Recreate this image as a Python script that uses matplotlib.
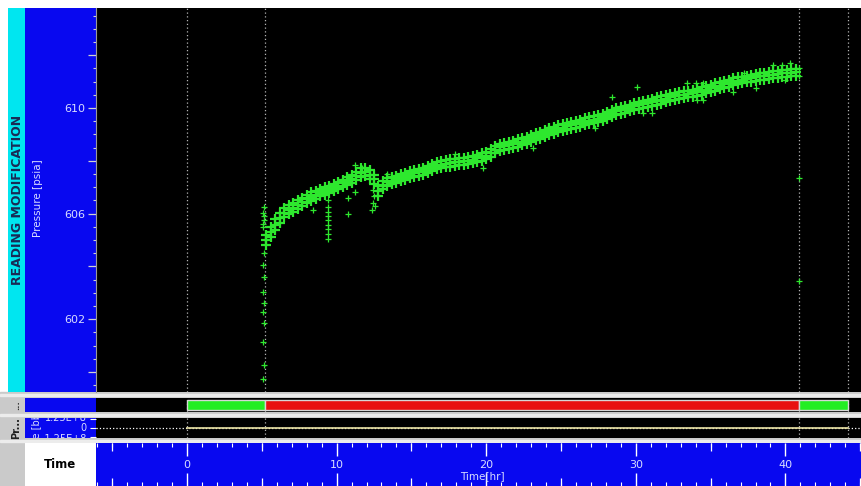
import matplotlib
matplotlib.use("Agg")
import matplotlib.pyplot as plt
import matplotlib.transforms as mtransforms
from matplotlib.patches import Rectangle
from matplotlib.ticker import MultipleLocator, FuncFormatter

# gauge pressure log, main band sampled every 0.3 hr (upper / mid / lower traces)
band_t = [
    5.3, 5.6, 5.9, 6.2, 6.5, 6.8, 7.1, 7.4, 7.7, 8.0,
    8.3, 8.6, 8.9, 9.2, 9.5, 9.8, 10.1, 10.4, 10.7, 11.0,
    11.3, 11.6, 11.9, 12.2, 12.5, 12.8, 13.1, 13.4, 13.7, 14.0,
    14.3, 14.6, 14.9, 15.2, 15.5, 15.8, 16.1, 16.4, 16.7, 17.0,
    17.3, 17.6, 17.9, 18.2, 18.5, 18.8, 19.1, 19.4, 19.7, 20.0,
    20.3, 20.6, 20.9, 21.2, 21.5, 21.8, 22.1, 22.4, 22.7, 23.0,
    23.3, 23.6, 23.9, 24.2, 24.5, 24.8, 25.1, 25.4, 25.7, 26.0,
    26.3, 26.6, 26.9, 27.2, 27.5, 27.8, 28.1, 28.4, 28.7, 29.0,
    29.3, 29.6, 29.9, 30.2, 30.5, 30.8, 31.1, 31.4, 31.7, 32.0,
    32.3, 32.6, 32.9, 33.2, 33.5, 33.8, 34.1, 34.4, 34.7, 35.0,
    35.3, 35.6, 35.9, 36.2, 36.5, 36.8, 37.1, 37.4, 37.7, 38.0,
    38.3, 38.6, 38.9, 39.2, 39.5, 39.8, 40.1, 40.4, 40.7,
]
band_mid = [
    605.0, 605.3, 605.57, 605.82, 606.03, 606.13, 606.22, 606.32, 606.44, 606.56,
    606.64, 606.71, 606.79, 606.86, 606.92, 606.98, 607.06, 607.15, 607.24, 607.32,
    607.42, 607.54, 607.56, 607.45, 607.3, 606.85, 607.1, 607.2, 607.25, 607.3,
    607.36, 607.42, 607.47, 607.52, 607.56, 607.6, 607.68, 607.75, 607.82, 607.86,
    607.89, 607.92, 607.95, 607.97, 607.99, 608.01, 608.04, 608.09, 608.14, 608.2,
    608.3, 608.42, 608.52, 608.56, 608.6, 608.64, 608.68, 608.73, 608.79, 608.86,
    608.92, 608.98, 609.04, 609.1, 609.16, 609.22, 609.26, 609.3, 609.35, 609.39,
    609.43, 609.48, 609.52, 609.56, 609.6, 609.66, 609.73, 609.8, 609.87, 609.93,
    609.97, 610.01, 610.06, 610.1, 610.14, 610.18, 610.22, 610.27, 610.31, 610.35,
    610.4, 610.44, 610.48, 610.51, 610.54, 610.57, 610.6, 610.65, 610.7, 610.75,
    610.8, 610.85, 610.9, 610.95, 611.0, 611.04, 611.07, 611.11, 611.14, 611.17,
    611.2, 611.22, 611.25, 611.27, 611.29, 611.31, 611.32, 611.34, 611.36,
]
band_hi = [
    605.2, 605.5, 605.78, 606.02, 606.2, 606.31, 606.39, 606.5, 606.6, 606.72,
    606.8, 606.86, 606.94, 607.0, 607.06, 607.13, 607.2, 607.29, 607.38, 607.47,
    607.58, 607.71, 607.74, 607.64, 607.48, 607.05, 607.25, 607.33, 607.39, 607.44,
    607.5, 607.55, 607.61, 607.66, 607.69, 607.74, 607.81, 607.89, 607.95, 607.99,
    608.02, 608.05, 608.08, 608.1, 608.12, 608.14, 608.17, 608.22, 608.28, 608.34,
    608.44, 608.55, 608.65, 608.69, 608.73, 608.76, 608.81, 608.86, 608.92, 608.99,
    609.05, 609.11, 609.17, 609.23, 609.29, 609.34, 609.38, 609.42, 609.48, 609.52,
    609.56, 609.61, 609.65, 609.69, 609.73, 609.79, 609.86, 609.93, 609.99, 610.05,
    610.09, 610.13, 610.18, 610.22, 610.26, 610.31, 610.35, 610.4, 610.44, 610.48,
    610.53, 610.57, 610.6, 610.63, 610.66, 610.69, 610.73, 610.78, 610.83, 610.88,
    610.93, 610.97, 611.02, 611.07, 611.12, 611.16, 611.19, 611.23, 611.26, 611.29,
    611.32, 611.34, 611.37, 611.39, 611.41, 611.43, 611.44, 611.46, 611.48,
]
band_lo = [
    604.82, 605.1, 605.38, 605.64, 605.86, 605.97, 606.06, 606.16, 606.29, 606.41,
    606.49, 606.57, 606.65, 606.72, 606.77, 606.84, 606.92, 607.01, 607.1, 607.17,
    607.27, 607.39, 607.41, 607.3, 607.13, 606.66, 606.95, 607.06, 607.11, 607.16,
    607.22, 607.28, 607.33, 607.38, 607.42, 607.46, 607.54, 607.61, 607.68, 607.72,
    607.75, 607.78, 607.81, 607.83, 607.85, 607.87, 607.9, 607.95, 608.0, 608.06,
    608.16, 608.28, 608.38, 608.42, 608.46, 608.5, 608.54, 608.59, 608.65, 608.72,
    608.78, 608.84, 608.9, 608.96, 609.02, 609.08, 609.12, 609.16, 609.21, 609.25,
    609.29, 609.34, 609.38, 609.42, 609.46, 609.52, 609.59, 609.66, 609.73, 609.79,
    609.83, 609.87, 609.92, 609.96, 610.0, 610.04, 610.08, 610.13, 610.17, 610.21,
    610.26, 610.3, 610.34, 610.37, 610.4, 610.43, 610.46, 610.51, 610.56, 610.61,
    610.66, 610.71, 610.76, 610.81, 610.86, 610.9, 610.93, 610.97, 611.0, 611.03,
    611.06, 611.08, 611.11, 611.13, 611.15, 611.17, 611.18, 611.2, 611.22,
]

# isolated readings: opening spike, two short drops and stray points
stray_t = [
    5.15, 5.1, 5.15, 5.1, 5.15, 5.1, 5.15, 5.1, 5.15, 5.1, 5.15, 5.1, 5.15, 5.1, 5.15, 5.1,
    9.45, 9.45, 9.45, 9.45, 9.45, 9.45, 9.45, 9.45, 9.45,
    12.45, 12.5, 12.45, 12.4, 12.55,
    8.4, 10.75, 10.75, 11.2, 11.2, 11.7, 13.4, 17.9, 19.8,
    23.1, 24.1, 27.3, 28.4, 30.1, 30.5, 31.1, 33.4, 34.0, 34.5, 34.1, 34.5,
    36.5, 37.2, 38.0, 39.2, 39.8, 40.0, 40.3,
    40.9, 40.9, 40.9, 40.9,
]
stray_p = [
    606.25, 606.02, 605.76, 605.49, 605.9, 605.6,
    604.51, 604.05, 603.6, 603.03, 602.61, 602.27, 601.86, 601.14, 600.27, 599.73,
    606.52, 606.25, 606.06, 605.91, 605.76, 605.57, 605.42, 605.23, 605.04,
    606.9, 606.65, 606.4, 606.14, 606.3,
    606.14, 605.98, 606.59, 606.82, 607.84, 607.73, 607.5, 608.26, 607.73,
    608.48, 609.28, 609.24, 610.42, 610.8, 609.8, 609.8, 610.95, 610.95, 610.95, 610.3, 610.3,
    610.6, 611.33, 610.76, 611.63, 611.63, 611.06, 611.7,
    611.5, 611.2, 607.35, 603.45,
]

# well status periods and event markers (hr)
status_start = [0.0, 5.2, 40.9]
status_end = [5.2, 40.9, 44.2]
status_color = ["#22ee22", "#e81010", "#22ee22"]
event_t = [0.0, 5.2, 40.9, 44.2]
rate_t = [0.0, 44.2]
rate_v = [0.0, 0.0]

W, H = 861, 486
XLIM = (-6.08, 45.05)
BLUE = "#0808f0"
CYAN = "#00e6f0"
GRAY = "#cacaca"
LIGHT = "#d8dcff"
GREEN = "#2ee82e"

fig = plt.figure(figsize=(W / 100, H / 100), dpi=100, facecolor="white")
fig.patches.append(Rectangle((0, 0), 1, (H - 392) / H, transform=fig.transFigure,
                             color=GRAY, zorder=-10))
for sep in (392, 412, 438):
    fig.patches.append(Rectangle((0, 1 - (sep + 4) / H), 1, 2 / H,
                                 transform=fig.transFigure, color="#ececec", zorder=-9))


def px_axes(x0, y0, x1, y1, color):
    ax = fig.add_axes([x0 / W, 1 - y1 / H, (x1 - x0) / W, (y1 - y0) / H])
    ax.set_facecolor(color)
    ax.set_xticks([])
    ax.set_yticks([])
    for s in ax.spines.values():
        s.set_visible(False)
    return ax


def events(ax):
    for t in event_t:
        ax.axvline(t, color="#b4b4b4", ls=(0, (1, 2)), lw=0.9, zorder=1)


# --- pressure track ---
lab = px_axes(8, 8, 25, 392, CYAN)
lab.text(0.55, 0.5, "READING MODIFICATION", rotation=90, ha="center", va="center",
         fontsize=9, fontweight="bold", color="#1a2a55", transform=lab.transAxes)
side = px_axes(25, 8, 96, 392, BLUE)
side.text(0.19, 0.505, "Pressure [psia]", rotation=90, ha="center", va="center",
          fontsize=7.5, color=LIGHT, transform=side.transAxes)

ax = px_axes(96, 8, 861, 392, "black")
ax.spines["left"].set_visible(True)
ax.spines["left"].set_color("#9a9a9a")
events(ax)
band_style = dict(ls="none", marker="+", ms=7, mew=1.6, color=GREEN, zorder=3)
ax.plot(band_t, band_hi, **band_style)
ax.plot(band_t, band_mid, **band_style)
ax.plot(band_t, band_lo, **band_style)
ax.plot(stray_t, stray_p, ls="none", marker="+", ms=4.5, mew=0.9, color=GREEN, zorder=3)
ax.set_xlim(*XLIM)
ax.set_ylim(599.24, 613.79)
ax.yaxis.set_major_locator(MultipleLocator(2))
ax.yaxis.set_minor_locator(MultipleLocator(0.5))
ax.yaxis.set_major_formatter(FuncFormatter(
    lambda v, _: f"{v:.0f}" if round(v - 602) % 4 == 0 else ""))
ax.tick_params(axis="y", which="major", length=6, width=0.9, color="#d0d0d0",
               labelcolor=LIGHT, labelsize=8, pad=2)
ax.tick_params(axis="y", which="minor", length=2.5, width=0.8, color="#d0d0d0")
ax.set_xticks([])

# --- status track ---
px_axes(25, 398, 96, 412, BLUE)
g2 = px_axes(8, 398, 25, 412, GRAY)
g2.text(0.5, 0.5, "...", rotation=90, ha="center", va="center", fontsize=6,
        fontweight="bold", color="#303030", transform=g2.transAxes)
ax2 = px_axes(96, 398, 861, 412, "black")
events(ax2)
ax2.barh([0.5] * len(status_start),
         [e - s for s, e in zip(status_start, status_end)],
         left=status_start, height=0.72, color=status_color,
         edgecolor="#d6d6d6", lw=1, zorder=3)
ax2.set_xlim(*XLIM)
ax2.set_ylim(0, 1)

# --- rate track ---
side3 = px_axes(25, 418, 96, 438, BLUE)
for yf, txt in ((1.02, "1.25E+8"), (0.5, "0"), (-0.05, "-1.25E+8")):
    side3.text(0.87, yf, txt, ha="right", va="center", fontsize=7, color=LIGHT,
               transform=side3.transAxes, clip_on=True)
side3.text(0.16, 0.62, "Rate [bbl/d]", rotation=90, ha="center", va="center",
           fontsize=7, color=LIGHT, transform=side3.transAxes, clip_on=True)
g3 = px_axes(8, 418, 25, 438, GRAY)
g3.text(0.5, 0.5, "Pr...", rotation=90, ha="center", va="center", fontsize=7,
        fontweight="bold", color="#202020", transform=g3.transAxes)
ax3 = px_axes(96, 418, 861, 438, "black")
events(ax3)
ax3.axhline(0, color="white", ls=":", lw=0.9, zorder=2)
ax3.plot(rate_t, rate_v, color="#ece4a6", lw=1.2, zorder=3)
ax3.set_xlim(*XLIM)
ax3.set_ylim(-1.4e8, 1.4e8)
ax3.set_yticks([-1.25e8, 0, 1.25e8])
ax3.tick_params(axis="y", length=4, color="white", labelleft=False)

# --- time axis ---
tb = px_axes(25, 443, 96, 486, "white")
tb.text(0.5, 0.5, "Time", ha="center", va="center", fontsize=8.5,
        fontweight="bold", color="black", transform=tb.transAxes)
axt = px_axes(96, 443, 861, 486, BLUE)
axt.set_xlim(*XLIM)
axt.xaxis.set_major_locator(MultipleLocator(10))
axt.xaxis.set_minor_locator(MultipleLocator(1))
axt.tick_params(axis="x", which="both", direction="in", top=True, bottom=True,
                labelbottom=False, color="white")
axt.tick_params(axis="x", which="major", length=9.5, width=1)
axt.tick_params(axis="x", which="minor", length=3, width=0.8)
blend = mtransforms.blended_transform_factory(axt.transData, axt.transAxes)
mid_ticks = [-5, 5, 15, 25, 35, 45]
axt.vlines(mid_ticks, 1 - 8 / 43, 1, color="white", lw=0.9, transform=blend)
axt.vlines(mid_ticks, 0, 8 / 43, color="white", lw=0.9, transform=blend)
for v in (0, 10, 20, 30, 40):
    axt.text(v, 21 / 43, str(v), ha="center", va="center", fontsize=8,
             color=LIGHT, transform=blend)
axt.text(0.505, 0.24, "Time[hr]", ha="center", va="center", fontsize=7.5,
         color=LIGHT, transform=axt.transAxes)

fig.savefig("out.png", dpi=100)
